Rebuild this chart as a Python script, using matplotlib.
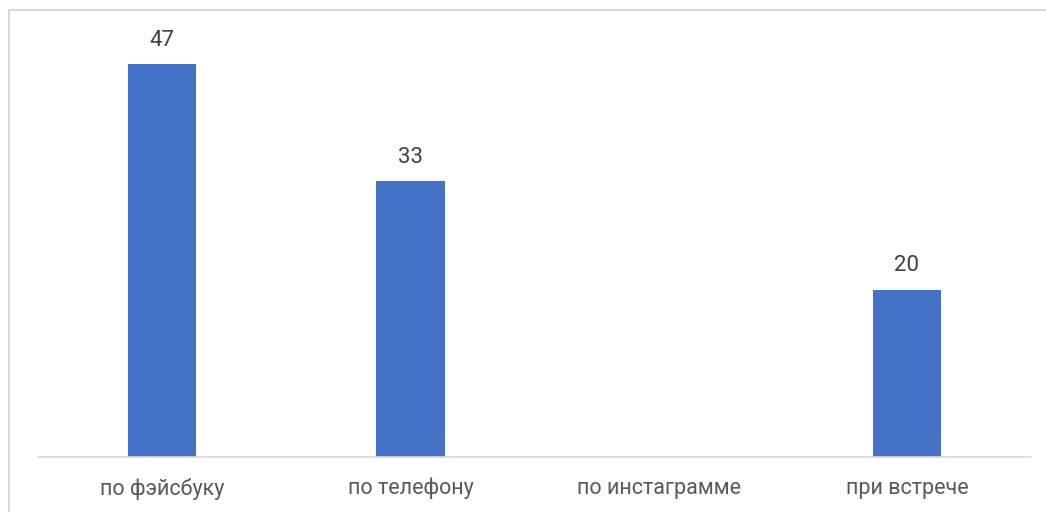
import numpy as np
import matplotlib.pyplot as plt
from matplotlib.lines import Line2D

categories = ['по фэйсбуку', 'по телефону', 'по инстаграмме', 'при встрече']
values = [47, 33, np.nan, 20]

W, H = 1046, 512
plt.rcParams['font.family'] = ['Roboto', 'DejaVu Sans']

fig = plt.figure(figsize=(W / 100, H / 100), dpi=100)

# light grey chart border (only left and top edges are in the picture)
bx, by = 8.5 / W, (H - 9.5) / H
fig.lines.append(Line2D([bx, bx], [0, by], transform=fig.transFigure,
                        color='#d9d9d9', linewidth=1.5))
fig.lines.append(Line2D([bx, 1.0], [by, by], transform=fig.transFigure,
                        color='#d9d9d9', linewidth=1.5,
                        solid_capstyle='butt'))

# plot area: baseline at y=457, top at y=20 px
ax = fig.add_axes([38 / W, (H - 457) / H, (1031 - 38) / W, (457 - 20) / H])
x = np.arange(len(categories))
ax.bar(x, values, width=0.275, color='#4472C4')

px_per_unit = 393 / 47
ax.set_ylim(0, (457 - 20) / px_per_unit)
ax.set_xlim(-0.5, len(categories) - 0.5)

for xi, v in zip(x, values):
    if not np.isnan(v):
        ax.text(xi, v + 1.6, f'{v:g}', ha='center', va='bottom',
                fontsize=16, color='#404040')

ax.set_xticks(x)
ax.set_xticklabels(categories, fontsize=15.5, color='#595959')
ax.tick_params(axis='x', length=0, pad=15)
ax.set_yticks([])
for s in ['top', 'right', 'left']:
    ax.spines[s].set_visible(False)
ax.spines['bottom'].set_color('#d9d9d9')
ax.spines['bottom'].set_linewidth(1.2)
ax.patch.set_alpha(0)

fig.savefig('out.png', dpi=100, facecolor='white')
